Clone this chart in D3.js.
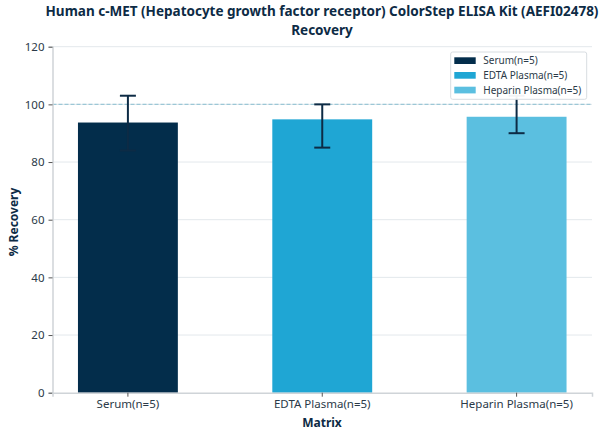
<!DOCTYPE html>
<html><head><meta charset="utf-8">
<script src="https://cdn.jsdelivr.net/npm/d3@7"></script>
<style>body{margin:0;background:#fff}text{font-family:"Noto Sans",sans-serif}</style>
</head><body><svg id="c" width="608" height="438"></svg>
<script>
const categories = ["Serum(n=5)", "EDTA Plasma(n=5)", "Heparin Plasma(n=5)"];
const values = [93.7, 94.8, 95.7];
const errUpper = [103, 100, 103];
const errLower = [84, 85, 90];
const colors = ["#032d4b", "#1fa6d4", "#5bbfe0"];
const yTicks = [0, 20, 40, 60, 80, 100, 120];
const titleLines = ["Human c-MET (Hepatocyte growth factor receptor) ColorStep ELISA Kit (AEFI02478)", "Recovery"];

const svg = d3.select("#c");
const L = 52.5, R = 592, T = 46.7, B = 392.7;
const x = d3.scaleBand().domain(categories).range([L, R]).paddingInner(0.486).paddingOuter(0.131);
const y = d3.scaleLinear().domain([0, 120]).range([B, T]);
const navy = "#0d2b45";

// grid
svg.append("g").selectAll("line").data(yTicks.filter(d=>d>0)).join("line")
  .attr("x1", L).attr("x2", R).attr("y1", d=>y(d)).attr("y2", d=>y(d))
  .attr("stroke", "#e3e8ec").attr("stroke-width", 1);

// bars
svg.append("g").selectAll("rect").data(categories).join("rect")
  .attr("x", d=>x(d)).attr("width", x.bandwidth())
  .attr("y", (d,i)=>y(values[i])).attr("height", (d,i)=>B - y(values[i]))
  .attr("fill", (d,i)=>colors[i]);

// reference line
svg.append("line").attr("x1", L).attr("x2", R).attr("y1", y(100)).attr("y2", y(100))
  .attr("stroke", "#9cc7d6").attr("stroke-width", 1.2).attr("stroke-dasharray", "4,2");

// error bars
const eg = svg.append("g").attr("stroke", navy).attr("stroke-width", 2);
categories.forEach((c,i)=>{
  const cx = x(c) + x.bandwidth()/2;
  eg.append("line").attr("x1", cx).attr("x2", cx).attr("y1", y(errLower[i])).attr("y2", y(errUpper[i]));
  eg.append("line").attr("x1", cx-8).attr("x2", cx+8).attr("y1", y(errLower[i])).attr("y2", y(errLower[i]));
  eg.append("line").attr("x1", cx-8).attr("x2", cx+8).attr("y1", y(errUpper[i])).attr("y2", y(errUpper[i]));
});

// axes
const ya = svg.append("g").attr("transform", `translate(${L},0)`)
  .call(d3.axisLeft(y).tickValues(yTicks).tickSize(4).tickPadding(4));
const xa = svg.append("g").attr("transform", `translate(0,${B})`)
  .call(d3.axisBottom(x).tickSize(4).tickPadding(3));
[ya, xa].forEach(a=>{
  a.select(".domain").attr("stroke", "#cfd4d8").attr("stroke-width", 1.5);
  a.selectAll(".tick line").attr("stroke", "#555");
  a.selectAll(".tick text").attr("fill", "#2b3a48").attr("font-size", 11.5).attr("font-family", "Noto Sans");
});

// title (one text, two lines)
const tt = svg.append("text").attr("text-anchor", "middle")
  .attr("font-size", 13.5).attr("font-weight", "bold").attr("fill", navy);
titleLines.forEach((t,i)=>{
  tt.append("tspan").attr("x", 322).attr("y", 16 + i*18.6).text(t);
});
svg.append("text").attr("x", 322).attr("y", 427).attr("text-anchor", "middle")
  .attr("font-size", 12).attr("font-weight", "bold").attr("fill", navy).text("Matrix");
svg.append("text").attr("transform", `translate(17.5,222) rotate(-90)`).attr("text-anchor", "middle")
  .attr("font-size", 12).attr("font-weight", "bold").attr("fill", navy).text("% Recovery");

// legend
const lg = svg.append("g");
lg.append("rect").attr("x", 450.7).attr("y", 52).attr("width", 136).attr("height", 47.3)
  .attr("rx", 2).attr("fill", "#fff").attr("fill-opacity", 0.95).attr("stroke", "#d8dde1");
categories.forEach((c,i)=>{
  const yy = 57.3 + i*14.7;
  lg.append("rect").attr("x", 454.3).attr("y", yy).attr("width", 21.4).attr("height", 6.7).attr("fill", colors[i]);
  lg.append("text").attr("x", 483.3).attr("y", yy+3.4).attr("dy", "0.35em")
    .attr("font-size", 10).attr("fill", "#2b3a48").text(c);
});
</script></body></html>
